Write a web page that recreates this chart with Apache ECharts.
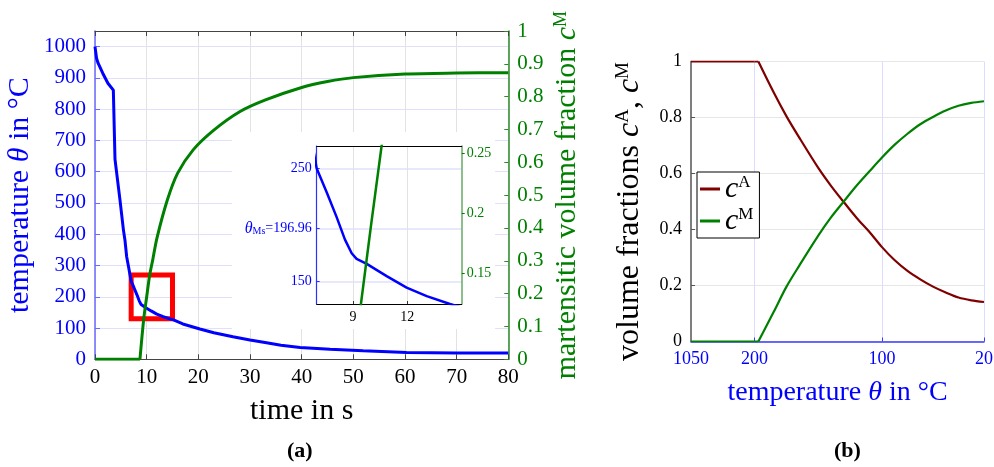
<!DOCTYPE html>
<html><head><meta charset="utf-8">
<script src="https://cdn.jsdelivr.net/npm/echarts@6/dist/echarts.min.js"></script>
<style>html,body{margin:0;padding:0;background:#fff}#c{width:994px;height:467px}</style>
</head><body><div id="c"></div>
<script>
// ---------- data: panel (a) ----------
const timeA = [0,0.3,0.6,1.5,2.5,3.55,3.87,4.84,5.5,5.8,6.13,6.5,7.0,7.55,8.1,8.56,8.93,9.2,9.76,10.86,11.96,13.07,14.35,15.2,17,20.3,23,26.7,30,33.2,36,39.7,45.5,51.9,60.3,70,80];
const tempA = [1000,963,947,915,883,861,640,509,414,381,328,295,250,229,207,187,175,170,165.6,154.7,144.5,137,130,126,113,97,85,72,62,53,45,38,32,27.5,22,20,20];
const fracFlatTime = [0,8.7];
const fracFlat = [0,0];
const fracTime = [8.7,9.44,10.0,10.58,11.2,12,14,16,19,23,28,33,40,45,50,60,70,80];
const fracM = [0,0.124,0.19,0.256,0.305,0.37,0.485,0.567,0.638,0.698,0.754,0.79,0.828,0.846,0.858,0.869,0.872,0.873];
const boxTime = [7,15,15,7,7];
const boxTemp = [130,130,270,270,130];
const insetTempTicks = [150,196.96,250];
const insetFracTicks = [0.15,0.2,0.25];
const insetTimeTicks = [9,12];
// ---------- data: panel (b) ----------
const tempHigh = [1050,200];
const cAHigh = [1,1];
const cMHigh = [0,0];
const tempFlat = [200,196.96];
const cAFlat = [1,1];
const cMFlat = [0,0];
const tempLow = [196.96,185,175,165,150,140,130,120,110,100,90,80,70,60,50,40,30,20];
const cALow = [1,0.89,0.805,0.729,0.62,0.556,0.498,0.442,0.392,0.337,0.29,0.252,0.222,0.196,0.175,0.157,0.147,0.141];
const cMLow = [0,0.105,0.195,0.27,0.378,0.443,0.50,0.556,0.607,0.657,0.703,0.742,0.776,0.802,0.825,0.842,0.852,0.858];
const tempTicksHigh = [1050];
const tempTicksLow = [200,100,20];

const zip = (a,b) => a.map((v,i)=>[v,b[i]]);
const SERIF = '"Liberation Serif","DejaVu Serif",serif';
const BLUE = '#0000ff', GREEN = '#008000', DRED = '#800000';

function rich(color, size, supSize){
  return {
    n:{fontFamily:SERIF,fontSize:size,color:color},
    i:{fontFamily:SERIF,fontSize:size,color:color,fontStyle:'italic'},
    c:{fontFamily:SERIF,fontSize:size,color:color,fontStyle:'italic'},
    s:{fontFamily:SERIF,fontSize:supSize,color:color,verticalAlign:'top'}
  };
}
const lbl = (color,size,margin)=>({color:color,fontFamily:SERIF,fontSize:size,margin:margin,formatter:v=>String(v)});

const chart = echarts.init(document.getElementById('c'), null, {renderer:'canvas'});
const gridBase = {containLabel:false, outerBoundsMode:'none'};
function line(name, xi, yi, xs, ys, color, width, smooth, z){
  return {type:'line',name:name,xAxisIndex:xi,yAxisIndex:yi,data:zip(xs,ys),symbol:'none',clip:true,
    smooth:smooth,lineStyle:{color:color,width:width},itemStyle:{color:color},z:z,silent:true};
}
const option = {
  animation:false,
  backgroundColor:'#fff',
  title:[
    {text:'(a)',left:287,top:440,padding:0,textStyle:{fontFamily:SERIF,fontWeight:'bold',fontSize:22,color:'#000'}},
    {text:'(b)',left:834,top:440,padding:0,textStyle:{fontFamily:SERIF,fontWeight:'bold',fontSize:22,color:'#000'}}
  ],
  grid:[
    Object.assign({left:95,top:31,width:413.3,height:328.3},gridBase),
    Object.assign({left:316.7,top:146,width:145,height:158},gridBase),
    Object.assign({left:691,top:61.5,width:293,height:280},gridBase),
    Object.assign({left:691,top:61.5,width:63.5,height:280},gridBase),
    Object.assign({left:754.5,top:61.5,width:229.5,height:280},gridBase)
  ],
  graphic:[{type:'rect',shape:{x:232,y:132,width:263,height:197},style:{fill:'#fff'},z:1,silent:true}],
  legend:{
    left:697,top:172,orient:'vertical',
    data:['cA','cM'],
    icon:'rect',
    backgroundColor:'#fff',borderColor:'#000',borderWidth:1,borderRadius:0,
    padding:[2,6,2,3],itemGap:2,itemWidth:20,itemHeight:3,
    formatter:n=> n==='cA' ? '{c|c}{s|A}' : '{c|c}{s|M}',
    textStyle:{rich:rich('#000',30,17)}
  },
  xAxis:[
    {gridIndex:0,type:'value',min:0,max:80,interval:10,position:'bottom',
     axisLine:{onZero:false,lineStyle:{color:'#444',width:1}},axisTick:{inside:true,length:5,lineStyle:{color:'#444'}},
     axisLabel:lbl('#000',21,8),splitLine:{show:true,lineStyle:{color:'#e2e2e2',width:1}},
     name:'time in s',nameLocation:'middle',nameGap:37,nameMoveOverlap:false,
     nameTextStyle:{fontFamily:SERIF,fontSize:30,color:'#000'}},
    {gridIndex:0,type:'value',min:0,max:80,interval:10,position:'top',
     axisLine:{onZero:false,lineStyle:{color:'#444',width:1}},axisTick:{inside:true,length:5,lineStyle:{color:'#444'}},
     axisLabel:{show:false},splitLine:{show:false}},
    {gridIndex:1,type:'value',min:7,max:15,position:'bottom',z:3,
     axisLine:{onZero:false,lineStyle:{color:'#000',width:1}},
     axisTick:{inside:true,length:3,customValues:insetTimeTicks,lineStyle:{color:'#333'}},
     axisLabel:Object.assign(lbl('#000',14,6),{customValues:insetTimeTicks}),
     splitLine:{show:true,lineStyle:{color:'#e2e2e2'}}},
    {gridIndex:1,type:'value',min:7,max:15,position:'top',z:3,
     axisLine:{onZero:false,lineStyle:{color:'#000',width:1}},axisTick:{show:false},axisLabel:{show:false},splitLine:{show:false}},
    {gridIndex:2,type:'value',min:0,max:1,position:'bottom',
     axisLine:{onZero:false,lineStyle:{color:'#3a3aff',width:1.5}},axisTick:{show:false},axisLabel:{show:false},splitLine:{show:false},
     name:'{n|temperature }{i|θ}{n| in °C}',nameLocation:'middle',nameGap:37,nameMoveOverlap:false,
     nameTextStyle:{rich:rich(BLUE,28,17)}},
    {gridIndex:3,type:'value',min:200,max:1050,inverse:true,position:'bottom',
     axisLine:{show:false,onZero:false},axisTick:{show:false,customValues:tempTicksHigh},
     axisLabel:Object.assign(lbl(BLUE,18,9),{customValues:tempTicksHigh}),splitLine:{show:false}},
    {gridIndex:4,type:'value',min:20,max:200,inverse:true,position:'bottom',
     axisLine:{show:false,onZero:false},axisTick:{show:true,inside:true,length:4,customValues:tempTicksLow,lineStyle:{color:'#3a3aff'}},
     axisLabel:Object.assign(lbl(BLUE,18,9),{customValues:tempTicksLow}),
     splitLine:{show:true,lineStyle:{color:'#dcdcff',width:1}}}
  ],
  yAxis:[
    {gridIndex:0,type:'value',min:0,max:1050,interval:100,position:'left',
     axisLine:{show:true,onZero:false,lineStyle:{color:'#6a6aff',width:1.5}},axisTick:{show:true,inside:true,length:5,lineStyle:{color:'#6a6aff'}},
     axisLabel:Object.assign(lbl(BLUE,21,9),{showMaxLabel:false}),
     splitLine:{show:true,lineStyle:{color:'#e0e0fb',width:1}},
     name:'{n|temperature }{i|θ}{n| in °C}',nameLocation:'middle',nameGap:60,nameMoveOverlap:false,
     nameTextStyle:{rich:rich(BLUE,30,18)}},
    {gridIndex:0,type:'value',min:0,max:1,interval:0.1,position:'right',
     axisLine:{show:true,onZero:false,lineStyle:{color:'#2a8a2a',width:1.5}},axisTick:{show:true,inside:true,length:4,lineStyle:{color:'#2a8a2a'}},
     axisLabel:lbl(GREEN,21,9),splitLine:{show:false},
     name:'{n|martensitic volume fraction }{c|c}{s|M}',nameLocation:'middle',nameGap:44,nameMoveOverlap:false,
     nameTextStyle:{rich:rich(GREEN,30,18)}},
    {gridIndex:1,type:'value',min:130,max:270,position:'left',z:3,
     axisLine:{show:true,onZero:false,lineStyle:{color:'#3030ff',width:1.2}},
     axisTick:{show:true,inside:true,length:3,customValues:insetTempTicks,lineStyle:{color:'#3030ff'}},
     axisLabel:Object.assign(lbl(BLUE,14,5),{customValues:insetTempTicks,
       formatter:v=> Math.abs(v-196.96)<0.01 ? '{t|θ}{m|Ms}{e|=196.96}' : String(v),
       rich:{t:{fontFamily:SERIF,fontSize:16,color:BLUE,fontStyle:'italic'},
             m:{fontFamily:SERIF,fontSize:10,color:BLUE,verticalAlign:'bottom'},
             e:{fontFamily:SERIF,fontSize:14,color:BLUE}}}),
     splitLine:{show:true,lineStyle:{color:'#e0e0fb',width:1.5}}},
    {gridIndex:1,type:'value',min:0.124,max:0.256,position:'right',z:3,
     axisLine:{show:true,onZero:false,lineStyle:{color:'#66aa66',width:1.5}},
     axisTick:{show:true,inside:false,length:3,customValues:insetFracTicks,lineStyle:{color:GREEN}},
     axisLabel:Object.assign(lbl(GREEN,14,5),{customValues:insetFracTicks}),splitLine:{show:false}},
    {gridIndex:2,type:'value',min:0,max:1,interval:0.2,position:'left',
     axisLine:{show:true,onZero:false,lineStyle:{color:'#555',width:1.5}},axisTick:{show:true,inside:true,length:4,lineStyle:{color:'#555'}},
     axisLabel:lbl('#000',18,9),splitLine:{show:true,lineStyle:{color:'#e6e6e6',width:1.2}},
     name:'{n|volume fractions }{c|c}{s|A}{n|, }{c|c}{s|M}',nameLocation:'middle',nameGap:45,nameMoveOverlap:false,
     nameTextStyle:{padding:[0,20,0,0],rich:rich('#000',32,19)}},
    {gridIndex:3,type:'value',min:0,max:1,show:false},
    {gridIndex:4,type:'value',min:0,max:1,show:false}
  ],
  series:[
    Object.assign(line('box',0,0,boxTime,boxTemp,'#ff0000',5,false,2),{lineStyle:{color:'#ff0000',width:5,join:'miter',cap:'square'}}),
    line('temp',0,0,timeA,tempA,BLUE,3,false,3),
    line('fracFlat',0,1,fracFlatTime,fracFlat,GREEN,3,false,3),
    line('frac',0,1,fracTime,fracM,GREEN,3,0.3,3),
    line('tempInset',2,2,timeA,tempA,BLUE,2.5,false,4),
    line('fracInset',2,3,fracTime,fracM,GREEN,2.5,false,4),
    line('cA',5,5,tempHigh,cAHigh,DRED,2.2,false,3),
    line('cA',6,6,tempFlat,cAFlat,DRED,2.2,false,3),
    line('cA',6,6,tempLow,cALow,DRED,2.2,0.3,3),
    line('cM',5,5,tempHigh,cMHigh,GREEN,2.2,false,3),
    line('cM',6,6,tempFlat,cMFlat,GREEN,2.2,false,3),
    line('cM',6,6,tempLow,cMLow,GREEN,2.2,0.3,3)
  ]
};
chart.setOption(option);
</script></body></html>
